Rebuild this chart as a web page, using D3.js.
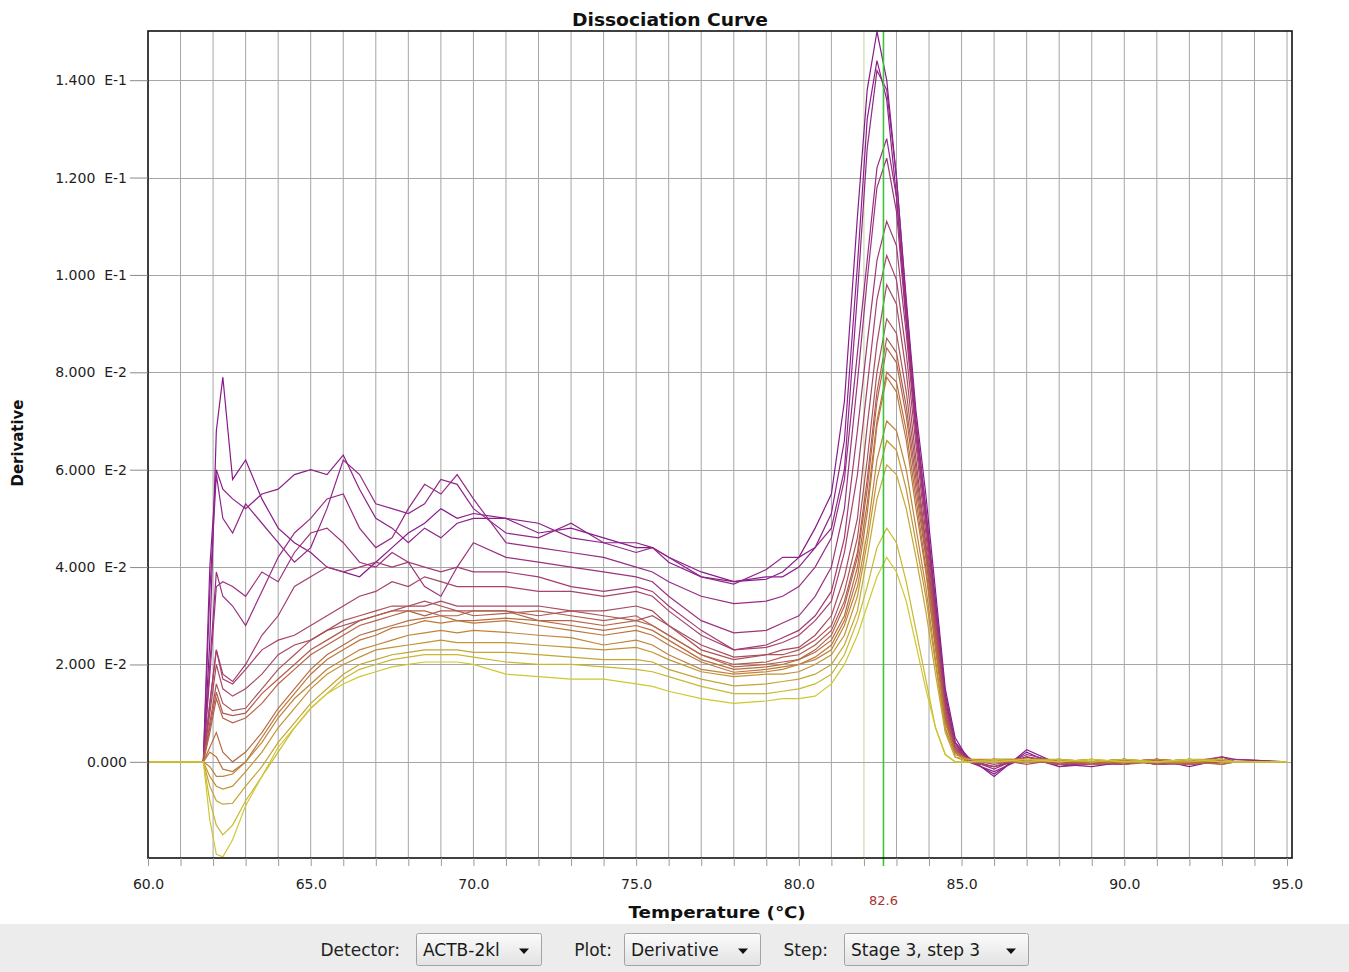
<!DOCTYPE html>
<html>
<head>
<meta charset="utf-8">
<script src="https://cdn.jsdelivr.net/npm/d3@7"></script>
<style>
html, body { margin: 0; padding: 0; background: #ffffff; }
svg { display: block; }
text { font-family: "DejaVu Sans", "Liberation Sans", sans-serif; }
</style>
</head>
<body>
<svg id="chart" width="1349" height="972"></svg>
<script>
// ---------------- DATA (derivative values in units of 1E-2) ----------------
const temps = [
  60, 61.7, 61.9, 62.1, 62.3,
  62.6, 63.0, 63.5, 64.0, 64.5, 65.0, 65.5, 66.0, 66.5, 67.0, 67.5, 68.0, 68.5, 69.0, 69.5, 70.0,
  71, 72, 73, 74, 75, 75.5, 76, 77, 78, 79, 79.5, 80, 80.5, 81,
  81.4, 81.8, 82.1, 82.4, 82.7, 83.0, 83.3, 83.6, 83.9, 84.2, 84.5, 84.8,
  85.2, 86, 87, 88, 89, 90, 91, 92, 93, 93.4, 95
];

const wellA = [0, 0, 2.5, 6.8, 7.9,
  5.8, 6.2, 5.4, 4.8, 4.5, 4.3, 4.0, 3.9, 3.8, 4.1, 4.4, 4.7, 4.9, 5.2, 5.0, 5.1,
  5.0, 4.7, 4.8, 4.6, 4.4, 4.4, 4.2, 3.9, 3.7, 3.75, 3.9, 4.2, 4.8, 5.5,
  7.4, 11.2, 13.8, 15.0, 14.0, 12.0, 9.5, 7.2, 5.5, 3.5, 1.5, 0.5,
  0.05, -0.25, 0.2, -0.1, 0.0, -0.05, 0.05, -0.1, 0.05, 0, 0];
const wellB = [0, 0, 4.0, 6.0, 5.6,
  5.4, 5.2, 5.5, 5.6, 5.9, 6.0, 5.9, 6.3, 5.6, 5.0, 4.8, 4.5, 4.8, 4.6, 4.9, 5.0,
  5.0, 4.9, 4.6, 4.5, 4.5, 4.4, 4.1, 3.8, 3.7, 3.8, 3.8, 4.0, 4.4, 5.1,
  6.6, 10.2, 13.2, 14.4, 13.6, 11.6, 9.1, 6.8, 5.0, 3.2, 1.3, 0.4,
  0.1, -0.3, 0.25, -0.05, -0.1, 0.0, 0.0, -0.05, 0.1, 0.05, 0];
const wellC = [0, 0, 3.5, 5.9, 5.0,
  4.7, 5.3, 4.9, 4.5, 4.1, 4.4, 5.2, 6.2, 5.9, 5.3, 5.2, 5.1, 5.3, 5.8, 5.7, 5.2,
  4.7, 4.6, 4.9, 4.5, 4.3, 4.4, 4.2, 3.8, 3.65, 3.95, 4.2, 4.2, 4.4, 4.8,
  6.0, 9.6, 12.6, 14.2, 13.8, 12.0, 9.4, 7.0, 5.2, 3.3, 1.4, 0.4,
  0.0, -0.2, 0.1, -0.1, -0.05, 0.05, -0.05, 0.0, 0.05, 0, 0];
const wellD = [0, 0, 2.0, 3.9, 3.4,
  3.2, 2.8, 3.5, 4.2, 4.7, 5.0, 5.4, 5.5, 4.8, 4.4, 4.6, 5.2, 5.7, 5.5, 5.9, 5.4,
  4.5, 4.4, 4.3, 4.2, 4.0, 3.9, 3.7, 3.4, 3.25, 3.3, 3.4, 3.6, 4.0, 4.6,
  5.8, 8.4, 10.3, 12.2, 12.8, 11.6, 9.3, 7.0, 5.2, 3.2, 1.3, 0.4,
  0.05, -0.15, 0.15, 0.0, -0.05, -0.05, 0.05, -0.05, 0.0, 0.05, 0];
const wellE = [0, 0, 1.8, 3.6, 3.7,
  3.6, 3.4, 3.9, 3.7, 4.3, 4.7, 4.8, 4.5, 4.1, 4.0, 4.3, 4.1, 3.6, 3.4, 4.0, 4.5,
  4.2, 4.1, 4.0, 3.9, 3.8, 3.7, 3.4, 2.9, 2.65, 2.7, 2.85, 3.0, 3.4, 4.0,
  5.2, 7.8, 9.9, 11.8, 12.4, 11.3, 9.0, 6.8, 5.0, 3.1, 1.2, 0.35,
  0.0, -0.1, 0.05, -0.05, 0.0, 0.05, -0.05, -0.05, 0.05, 0, 0];
const wellF = [0, 0, 1.2, 2.3, 1.8,
  1.65, 2.0, 2.6, 3.0, 3.6, 3.8, 4.0, 3.9, 4.0, 4.1, 4.0, 4.1, 4.0, 3.9, 4.0, 3.9,
  3.9, 3.8, 3.6, 3.5, 3.6, 3.5, 3.2, 2.7, 2.3, 2.4, 2.55, 2.7, 3.0, 3.5,
  4.6, 6.8, 8.6, 10.3, 11.1, 10.6, 8.8, 6.7, 4.9, 3.0, 1.2, 0.3,
  0.05, -0.1, 0.1, -0.05, -0.05, 0.0, 0.05, 0.0, 0.1, 0, 0];
const wellG = [0, 0, 1.2, 2.3, 1.7,
  1.6, 1.9, 2.3, 2.5, 2.6, 2.8, 3.0, 3.2, 3.4, 3.5, 3.7, 3.6, 3.8, 3.7, 3.6, 3.6,
  3.6, 3.5, 3.5, 3.4, 3.5, 3.4, 3.1, 2.6, 2.3, 2.35, 2.45, 2.6, 2.9, 3.3,
  4.3, 5.9, 7.7, 9.5, 10.4, 9.9, 8.4, 6.5, 4.7, 2.9, 1.1, 0.3,
  0.0, -0.1, 0.1, 0.0, -0.05, 0.05, -0.05, 0.0, 0.05, 0, 0];
const wellH = [0, 0, 1.0, 2.0, 1.5,
  1.35, 1.5, 1.8, 2.2, 2.4, 2.5, 2.7, 2.8, 2.9, 3.0, 3.1, 3.2, 3.2, 3.3, 3.2, 3.2,
  3.2, 3.2, 3.1, 3.1, 3.2, 3.1, 2.8, 2.4, 2.15, 2.2, 2.3, 2.35, 2.6, 3.0,
  3.8, 5.0, 6.9, 8.6, 9.8, 9.4, 8.0, 6.2, 4.5, 2.8, 1.0, 0.25,
  0.05, -0.05, 0.05, -0.05, 0.0, 0.0, 0.05, -0.05, 0.0, 0, 0];
const wellI = [0, 0, 0.8, 1.6, 1.2,
  1.05, 1.1, 1.5, 1.9, 2.2, 2.5, 2.7, 2.9, 3.0, 3.1, 3.2, 3.2, 3.3, 3.2, 3.1, 3.1,
  3.1, 3.0, 3.1, 3.0, 2.9, 3.0, 2.8, 2.3, 2.1, 2.2, 2.2, 2.3, 2.5, 2.8,
  3.5, 4.6, 6.2, 8.0, 9.1, 8.8, 7.6, 6.0, 4.4, 2.7, 1.0, 0.25,
  0.0, 0.05, -0.05, 0.05, -0.05, 0.0, 0.0, 0.05, -0.05, 0, 0];
const wellJ = [0, 0, 0.7, 1.43, 1.0,
  0.95, 1.0, 1.4, 1.7, 2.0, 2.3, 2.5, 2.7, 2.9, 3.0, 3.1, 3.1, 3.0, 3.1, 3.1, 3.0,
  3.05, 3.1, 3.0, 2.9, 3.0, 2.8, 2.6, 2.2, 2.0, 2.05, 2.15, 2.2, 2.4, 2.7,
  3.3, 4.3, 5.8, 7.6, 8.7, 8.4, 7.3, 5.8, 4.3, 2.6, 0.95, 0.2,
  0.05, 0.0, 0.05, -0.05, 0.0, 0.05, -0.05, 0.0, 0.05, 0, 0];
const wellK = [0, 0, 0.6, 1.3, 0.9,
  0.8, 0.9, 1.2, 1.6, 1.9, 2.2, 2.4, 2.6, 2.8, 2.9, 3.0, 3.1, 3.1, 3.0, 3.0, 3.1,
  3.1, 2.9, 2.9, 2.8, 2.9, 2.8, 2.6, 2.2, 1.95, 2.0, 2.05, 2.1, 2.3, 2.6,
  3.2, 4.2, 5.6, 7.4, 8.5, 8.2, 7.1, 5.6, 4.2, 2.5, 0.9, 0.2,
  0.0, 0.05, 0.0, 0.0, 0.05, -0.05, 0.0, 0.05, 0.0, 0, 0];
const wellL = [0, 0, 0.3, 0.6, 0.2,
  0.0, 0.2, 0.6, 1.1, 1.5, 1.9, 2.2, 2.4, 2.6, 2.7, 2.8, 2.9, 2.95, 3.0, 2.9, 2.9,
  2.95, 2.9, 2.8, 2.7, 2.8, 2.7, 2.5, 2.1, 1.9, 1.95, 2.0, 2.1, 2.25, 2.5,
  3.0, 4.0, 5.3, 7.0, 8.0, 7.8, 6.8, 5.4, 4.0, 2.4, 0.85, 0.2,
  0.05, 0.0, 0.0, 0.05, -0.05, 0.0, 0.05, 0.0, -0.05, 0, 0];
const wellM = [0, 0, 0.2, 0.1, -0.15,
  -0.2, 0.0, 0.5, 1.0, 1.4, 1.8, 2.1, 2.3, 2.5, 2.6, 2.75, 2.8, 2.9, 2.85, 2.9, 2.85,
  2.9, 2.8, 2.7, 2.6, 2.7, 2.6, 2.4, 2.05, 1.84, 1.9, 1.95, 2.0, 2.15, 2.4,
  2.9, 3.8, 5.1, 6.9, 7.9, 7.6, 6.6, 5.2, 3.9, 2.3, 0.8, 0.2,
  0.0, 0.05, 0.05, 0.0, 0.0, 0.05, 0.0, -0.05, 0.05, 0, 0];
const wellN = [0, 0, -0.1, -0.3, -0.3,
  -0.25, 0.0, 0.4, 0.9, 1.3, 1.6, 1.9, 2.1, 2.3, 2.4, 2.5, 2.6, 2.65, 2.7, 2.65, 2.7,
  2.66, 2.6, 2.55, 2.4, 2.5, 2.4, 2.2, 1.9, 1.8, 1.85, 1.9, 2.0, 2.1, 2.3,
  2.8, 3.6, 4.7, 6.2, 7.0, 6.8, 6.0, 4.8, 3.6, 2.1, 0.7, 0.15,
  0.05, 0.05, 0.0, 0.05, 0.0, 0.0, 0.05, 0.0, 0.05, 0, 0];
const wellO = [0, 0, -0.3, -0.5, -0.56,
  -0.5, -0.2, 0.2, 0.7, 1.1, 1.5, 1.8, 2.0, 2.15, 2.3, 2.35, 2.4, 2.45, 2.5, 2.45, 2.45,
  2.45, 2.4, 2.35, 2.3, 2.35, 2.25, 2.1, 1.85, 1.75, 1.8, 1.8, 1.85, 2.0, 2.2,
  2.6, 3.4, 4.5, 5.8, 6.6, 6.4, 5.6, 4.5, 3.4, 2.0, 0.65, 0.1,
  0.0, 0.05, 0.05, 0.0, 0.05, 0.0, 0.0, 0.05, 0.0, 0, 0];
const wellP = [0, 0, -0.5, -0.8, -0.87,
  -0.85, -0.5, -0.1, 0.4, 0.8, 1.2, 1.5, 1.8, 2.0, 2.1, 2.2, 2.25, 2.3, 2.3, 2.3, 2.25,
  2.25, 2.2, 2.15, 2.1, 2.1, 2.05, 1.9, 1.7, 1.56, 1.6, 1.65, 1.7, 1.8, 2.0,
  2.4, 3.1, 4.2, 5.4, 6.1, 5.9, 5.2, 4.2, 3.1, 1.8, 0.6, 0.1,
  0.05, 0.0, 0.05, 0.05, 0.0, 0.05, 0.0, 0.05, 0.05, 0, 0];
const wellQ = [0, 0, -0.8, -1.3, -1.5,
  -1.3, -0.8, -0.3, 0.2, 0.7, 1.1, 1.4, 1.7, 1.9, 2.0, 2.1, 2.15, 2.2, 2.2, 2.2, 2.15,
  2.05, 2.0, 2.0, 1.95, 1.9, 1.85, 1.75, 1.55, 1.4, 1.4, 1.45, 1.5, 1.6, 1.8,
  2.2, 2.9, 3.6, 4.4, 4.8, 4.5, 3.7, 2.7, 1.7, 0.7, 0.15, 0.0,
  0.0, 0.05, 0.0, 0.05, 0.0, 0.05, 0.0, 0.0, 0.05, 0, 0];
const wellR = [0, 0, -1.2, -1.9, -1.95,
  -1.6, -0.9, -0.3, 0.3, 0.7, 1.1, 1.4, 1.6, 1.75, 1.85, 1.95, 2.0, 2.05, 2.05, 2.05, 2.0,
  1.8, 1.75, 1.7, 1.7, 1.6, 1.55, 1.45, 1.3, 1.2, 1.25, 1.3, 1.3, 1.35, 1.6,
  2.0, 2.6, 3.2, 3.8, 4.2, 3.9, 3.3, 2.4, 1.5, 0.7, 0.15, 0.0,
  0.0, 0.0, 0.05, 0.0, 0.05, 0.0, 0.0, 0.05, 0.0, 0, 0];

const seriesValues = [wellA, wellB, wellC, wellD, wellE, wellF, wellG, wellH, wellI,
                      wellJ, wellK, wellL, wellM, wellN, wellO, wellP, wellQ, wellR];
const seriesColors = ["#861a8c", "#8c1f8a", "#902688", "#962c84", "#9c327c", "#a23a72",
                      "#a8426a", "#a84a60", "#ac5458", "#b05c50", "#b46448", "#b86c42",
                      "#bc763c", "#c08438", "#c29434", "#c4a632", "#c8b830", "#cec830"];

const yTickValues = [0, 2, 4, 6, 8, 10, 12, 14];
const yTickLabels = ["0.000", "2.000  E-2", "4.000  E-2", "6.000  E-2", "8.000  E-2",
                     "1.000  E-1", "1.200  E-1", "1.400  E-1"];
const xTickValues = [60, 65, 70, 75, 80, 85, 90, 95];
const xTickLabels = ["60.0", "65.0", "70.0", "75.0", "80.0", "85.0", "90.0", "95.0"];
const markerTemp = 82.6;
const markerLabel = "82.6";
const chartTitle = "Dissociation Curve";
const xTitle = "Temperature (\u2103)";
const yTitle = "Derivative";
const controlLabels = ["Detector:", "Plot:", "Step:"];
const controlValues = ["ACTB-2kl", "Derivative", "Stage 3, step 3"];

// ---------------- LAYOUT ----------------
const svg = d3.select("#chart");
const plotL = 148, plotR = 1292, plotT = 31, plotB = 858;

const x = d3.scaleLinear().domain([60, 95]).range([148, 1287]);
const y = d3.scaleLinear().domain([-1.975, 15.01]).range([plotB, plotT]);

// plot background
svg.append("rect").attr("x", plotL).attr("y", plotT)
  .attr("width", plotR - plotL).attr("height", plotB - plotT).attr("fill", "#ffffff");

// grid
const grid = svg.append("g");
grid.selectAll("line.v").data(d3.range(61, 96)).join("line")
  .attr("x1", d => x(d)).attr("x2", d => x(d))
  .attr("y1", plotT).attr("y2", plotB)
  .attr("stroke", d => d === 82 ? "#bcd89c" : "#a6a6a6")
  .attr("stroke-width", 1);
grid.selectAll("line.h").data(yTickValues).join("line")
  .attr("x1", plotL).attr("x2", plotR)
  .attr("y1", d => Math.round(y(d)) + 0.5).attr("y2", d => Math.round(y(d)) + 0.5)
  .attr("stroke", "#a6a6a6").attr("stroke-width", 1);

// clip
svg.append("defs").append("clipPath").attr("id", "plotclip")
  .append("rect").attr("x", plotL).attr("y", plotT)
  .attr("width", plotR - plotL).attr("height", plotB - plotT);

// curves
const line = d3.line().x((d, i) => x(temps[i])).y(d => y(d));
svg.append("g").attr("clip-path", "url(#plotclip)")
  .selectAll("path").data(seriesValues).join("path")
  .attr("d", d => line(d))
  .attr("fill", "none")
  .attr("stroke", (d, i) => seriesColors[i])
  .attr("stroke-width", 1.2)
  .attr("stroke-linejoin", "miter");

// marker line
svg.append("line")
  .attr("x1", x(markerTemp)).attr("x2", x(markerTemp))
  .attr("y1", plotT).attr("y2", plotB + 8)
  .attr("stroke", "#3cc43c").attr("stroke-width", 1.6);

// border
svg.append("rect").attr("x", plotL).attr("y", plotT)
  .attr("width", plotR - plotL).attr("height", plotB - plotT)
  .attr("fill", "none").attr("stroke", "#111").attr("stroke-width", 1.6);

// y axis
const yAxis = d3.axisLeft(y).tickValues(yTickValues).tickSize(18).tickSizeOuter(0)
  .tickPadding(3).tickFormat((d, i) => yTickLabels[i]);
const yg = svg.append("g").attr("transform", `translate(${plotL},0)`).call(yAxis);
yg.select(".domain").remove();
yg.selectAll(".tick line").attr("stroke", "#8a8a8a");
yg.selectAll(".tick text").attr("font-size", 14).attr("fill", "#1e1e1e")
  .style("white-space", "pre").attr("font-family", "DejaVu Sans, sans-serif");

// x axis (minor ticks each degree, labels every 5)
const xAxis = d3.axisBottom(x).tickValues(d3.range(60, 96)).tickSize(8).tickSizeOuter(0)
  .tickPadding(13)
  .tickFormat(d => { const k = xTickValues.indexOf(d); return k >= 0 ? xTickLabels[k] : ""; });
const xg = svg.append("g").attr("transform", `translate(0,${plotB})`).call(xAxis);
xg.select(".domain").remove();
xg.selectAll(".tick line").attr("stroke", "#9a9a9a");
xg.selectAll(".tick text").attr("font-size", 14).attr("fill", "#1e1e1e")
  .attr("font-family", "DejaVu Sans, sans-serif");

// marker label
svg.append("text").attr("x", x(markerTemp)).attr("y", 905)
  .attr("text-anchor", "middle").attr("font-size", 13).attr("fill", "#a83232")
  .text(markerLabel);

// titles
svg.append("text").attr("x", 670).attr("y", 26).attr("text-anchor", "middle")
  .attr("font-size", 17).attr("font-weight", "bold").attr("fill", "#111")
  .attr("textLength", 196).attr("lengthAdjust", "spacingAndGlyphs")
  .text(chartTitle);
svg.append("text").attr("x", 717).attr("y", 918).attr("text-anchor", "middle")
  .attr("font-size", 16).attr("font-weight", "bold").attr("fill", "#111")
  .attr("textLength", 177).attr("lengthAdjust", "spacingAndGlyphs")
  .text(xTitle);
svg.append("text").attr("transform", "translate(23,443) rotate(-90)")
  .attr("text-anchor", "middle").attr("font-size", 15).attr("font-weight", "bold")
  .attr("fill", "#111").attr("textLength", 87).attr("lengthAdjust", "spacingAndGlyphs")
  .text(yTitle);

// bottom control panel
svg.append("rect").attr("x", 0).attr("y", 924).attr("width", 1349).attr("height", 48)
  .attr("fill", "#ececec");
const grad = svg.select("defs").append("linearGradient").attr("id", "btn")
  .attr("x1", 0).attr("x2", 0).attr("y1", 0).attr("y2", 1);
grad.append("stop").attr("offset", "0%").attr("stop-color", "#fbfbfb");
grad.append("stop").attr("offset", "100%").attr("stop-color", "#e2e2e2");

const labelEnds = [400, 612, 828];
const boxes = [[416, 541], [624, 760], [844, 1028]];
const panel = svg.append("g");
panel.selectAll("text.lab").data(controlLabels).join("text")
  .attr("x", (d, i) => labelEnds[i]).attr("y", 956).attr("text-anchor", "end")
  .attr("font-size", 17).attr("fill", "#222").text(d => d);
panel.selectAll("rect.box").data(controlValues).join("rect")
  .attr("x", (d, i) => boxes[i][0] + 0.5).attr("y", 933.5)
  .attr("width", (d, i) => boxes[i][1] - boxes[i][0]).attr("height", 32)
  .attr("rx", 2).attr("fill", "url(#btn)").attr("stroke", "#a3a3a3");
panel.selectAll("text.val").data(controlValues).join("text")
  .attr("x", (d, i) => boxes[i][0] + 7).attr("y", 956)
  .attr("font-size", 17).attr("fill", "#1a1a1a").text(d => d);
panel.selectAll("path.arrow").data(controlValues).join("path")
  .attr("d", (d, i) => {
    const cx = boxes[i][1] - 17, cy = 951;
    return `M${cx - 5},${cy - 2.5}L${cx + 5},${cy - 2.5}L${cx},${cy + 3}Z`;
  })
  .attr("fill", "#111");
</script>
</body>
</html>
